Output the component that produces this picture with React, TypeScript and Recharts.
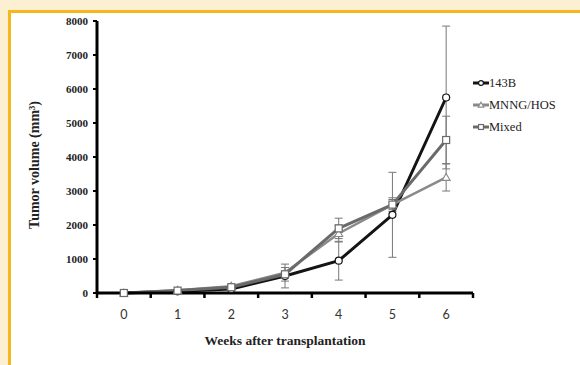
import React from 'react'
import { LineChart, Line, XAxis, YAxis, ErrorBar } from 'recharts'

const weeks = [0, 1, 2, 3, 4, 5, 6]
const vol143B = [0, 50, 120, 500, 950, 2300, 5750]
const err143B = [0, 20, 40, 350, 570, 1250, 2100]
const volMNNG = [0, 80, 200, 600, 1750, 2600, 3400]
const errMNNG = [0, 20, 40, 150, 250, 150, 400]
const volMixed = [0, 70, 170, 550, 1900, 2600, 4500]
const errMixed = [0, 20, 40, 200, 300, 200, 700]
const yTicks = [0, 1000, 2000, 3000, 4000, 5000, 6000, 7000, 8000]
// integer ticks get a label, half ticks get the tick mark (Excel style)
const xTicks = [-0.5, 0, 0.5, 1, 1.5, 2, 2.5, 3, 3.5, 4, 4.5, 5, 5.5, 6, 6.5]

const series = [
	{ key: 'b143', err: 'e143', name: '143B', color: '#141414', width: 3, shape: 'circle' },
	{ key: 'mnng', err: 'eMnng', name: 'MNNG/HOS', color: '#8a8a8a', width: 2.5, shape: 'triangle' },
	{ key: 'mixed', err: 'eMixed', name: 'Mixed', color: '#6a6a6a', width: 3, shape: 'square' },
]

const data = weeks.map((w, i) => ({
	week: w,
	b143: vol143B[i],
	e143: err143B[i],
	mnng: volMNNG[i],
	eMnng: errMNNG[i],
	mixed: volMixed[i],
	eMixed: errMixed[i],
}))

const Marker = ({ shape, cx, cy, color, s = 1 }: any) => {
	if (shape === 'square')
		return (
			<rect x={cx - 3.5 * s} y={cy - 3.5 * s} width={7 * s} height={7 * s} fill='#fff' stroke={color} strokeWidth={1.2} />
		)
	if (shape === 'triangle')
		return (
			<path
				d={`M${cx},${cy - 4 * s}L${cx + 4 * s},${cy + 3 * s}L${cx - 4 * s},${cy + 3 * s}Z`}
				fill='#fff'
				stroke={color}
				strokeWidth={1.1}
			/>
		)
	return <circle cx={cx} cy={cy} r={3.5 * s} fill='#fff' stroke={color} strokeWidth={1.2} />
}

const makeDot = (shape: string, color: string) => (props: any) => (
	<Marker key={`d-${shape}-${props.index}`} shape={shape} cx={props.cx} cy={props.cy} color={color} />
)

const XTick = (props: any) => {
	const { x, y, payload } = props
	const v = payload.value
	if (Number.isInteger(v))
		return (
			<text x={x} y={y + 26} textAnchor='middle' fontFamily='Lato, sans-serif' fontSize={12.5} fill='#333'>
				{v}
			</text>
		)
	return <line x1={x} x2={x} y1={y} y2={y + 5} stroke='#000' strokeWidth={2.5} />
}

const YTitle = (props: any) => {
	const vb = props.viewBox
	const cx = 34
	const cy = vb.y + vb.height / 2 + 8
	return (
		<text
			x={cx}
			y={cy}
			transform={`rotate(-90 ${cx} ${cy})`}
			textAnchor='middle'
			dominantBaseline='central'
			fontFamily='Liberation Serif, serif'
			fontWeight='bold'
			fontSize={14}
			fill='#222'
		>
			Tumor volume (mm³)
		</text>
	)
}

const LegendBox = () => (
	<div style={{ fontFamily: 'Liberation Serif, serif', fontSize: 12.5, color: '#222', lineHeight: '22px' }}>
		{series.map((s) => (
			<div key={s.key} style={{ display: 'flex', alignItems: 'center', height: 22 }}>
				<svg width={16} height={10}>
					<line x1={0} x2={16} y1={5} y2={5} stroke={s.color} strokeWidth={3} />
					<Marker shape={s.shape} cx={8} cy={5} color={s.color} s={0.7} />
				</svg>
				<span>{s.name}</span>
			</div>
		))}
	</div>
)

const App = () => {
	return (
		<div
			style={{
				position: 'absolute',
				left: 0,
				top: 0,
				width: 580,
				height: 365,
				background: '#fcefd2',
				overflow: 'hidden',
			}}
		>
			<div
				style={{
					position: 'absolute',
					left: 8,
					top: 10,
					width: 620,
					height: 420,
					background: '#fff',
					borderTop: '3px solid #f5b81c',
					borderLeft: '3px solid #f5b81c',
				}}
			/>
			<div style={{ position: 'absolute', left: 0, top: 0 }}>
				<LineChart width={580} height={365} data={data} margin={{ top: 21, right: 107, left: 0, bottom: 0 }}>
					<XAxis
						dataKey='week'
						type='number'
						domain={[-0.5, 6.5]}
						ticks={xTicks}
						interval={0}
						tick={<XTick />}
						tickLine={false}
						tickSize={0}
						tickMargin={0}
						axisLine={{ stroke: '#000', strokeWidth: 3 }}
						height={72}
						label={{
							value: 'Weeks after transplantation',
							position: 'insideBottom',
							offset: 20,
							fontFamily: 'Liberation Serif, serif',
							fontWeight: 'bold',
							fontSize: 13.5,
							fill: '#222',
						}}
					/>
					<YAxis
						domain={[0, 8000]}
						ticks={yTicks}
						interval={0}
						width={97}
						tickSize={4}
						tickMargin={5}
						tickLine={{ stroke: '#000', strokeWidth: 2 }}
						axisLine={{ stroke: '#000', strokeWidth: 3 }}
						tick={{ fontFamily: 'Liberation Serif, serif', fontWeight: 'bold', fontSize: 11, fill: '#222' }}
						label={<YTitle />}
					/>
					{series.map((s) => (
						<Line
							key={s.key}
							dataKey={s.key}
							name={s.name}
							stroke={s.color}
							strokeWidth={s.width}
							dot={makeDot(s.shape, s.color)}
							activeDot={false}
							isAnimationActive={false}
						>
							<ErrorBar dataKey={s.err} direction='y' width={4} stroke='#777' strokeWidth={1} />
						</Line>
					))}
				</LineChart>
			</div>
			<div style={{ position: 'absolute', left: 473, top: 72 }}>
				<LegendBox />
			</div>
		</div>
	)
}

export default App
